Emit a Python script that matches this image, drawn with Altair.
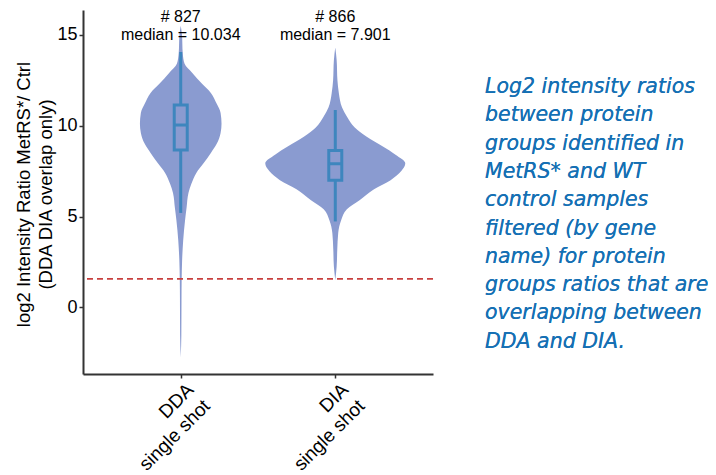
import json
import altair as alt
import pandas as pd

# ---------------- data ----------------
categories = ["DDA", "DIA"]
cat_pos = [1, 2]
cat_label_lines = [["DDA", "single shot"], ["DIA", "single shot"]]
counts = [827, 866]
medians = [10.034, 7.901]
q1 = [8.66, 7.0]
q3 = [11.13, 8.63]
whisk_lo = [5.2, 4.73]
whisk_hi = [14.05, 10.86]
threshold = 1.58

# violin outlines: log2 ratio value and half-width (x units)
dda_y = [15.5, 15.0, 14.0, 13.4, 12.9, 12.3, 11.8, 11.2, 10.7, 10.1, 9.6, 9.0, 8.5,
         7.9, 7.4, 6.8, 6.3, 5.5, 4.8, 3.7, 2.6, 1.5, 0.4, -1.5, -2.75]
dda_w = [0.0, 0.008, 0.013, 0.025, 0.075, 0.138, 0.195, 0.233, 0.258, 0.264, 0.258, 0.233, 0.195,
         0.145, 0.101, 0.069, 0.050, 0.038, 0.028, 0.016, 0.009, 0.006, 0.005, 0.004, 0.0]
dia_y = [14.3, 13.6, 12.5, 11.8, 11.0, 10.5, 9.9, 9.4, 8.85, 8.4, 7.93, 7.5, 7.0,
         6.5, 5.9, 5.4, 4.8, 4.1, 3.2, 2.25, 1.5]
dia_w = [0.0, 0.009, 0.014, 0.023, 0.044, 0.075, 0.126, 0.201, 0.308, 0.390, 0.453, 0.427, 0.358,
         0.251, 0.157, 0.075, 0.038, 0.019, 0.013, 0.009, 0.0]

caption_lines = [
    "Log2 intensity ratios",
    "between protein",
    "groups identified in",
    "MetRS* and WT",
    "control samples",
    "filtered (by gene",
    "name) for protein",
    "groups ratios that are",
    "overlapping between",
    "DDA and DIA.",
]

y_title = ["log2 Intensity Ratio MetRS*/ Ctrl", "(DDA DIA overlap only)"]

# ---------------- tables ----------------
vdf = pd.concat([
    pd.DataFrame({"group": categories[0], "pos": cat_pos[0], "y": dda_y, "w": dda_w}),
    pd.DataFrame({"group": categories[1], "pos": cat_pos[1], "y": dia_y, "w": dia_w}),
])
bdf = pd.DataFrame({
    "group": categories, "pos": cat_pos, "q1": q1, "q3": q3,
    "lo": whisk_lo, "hi": whisk_hi, "median": medians,
    "label": [f"# {c}\nmedian = {m:.3f}" for c, m in zip(counts, medians)],
})

VIOLIN = "#8A9BD0"
BOX = "#3E86BE"
FONT = "Liberation Sans"

x_scale = alt.Scale(domain=[0.4, 2.6], nice=False, zero=False)
y_scale = alt.Scale(domain=[-3.66, 16.36], nice=False, zero=False)

label_expr = " : ".join(
    f"datum.value == {p} ? {json.dumps(l)}" for p, l in zip(cat_pos, cat_label_lines)
) + " : ''"

x_axis = alt.Axis(
    values=cat_pos, labelExpr=label_expr, labelAngle=-45, labelAlign="right",
    labelBaseline="top", labelFontSize=19, labelLineHeight=23, labelOffset=3,
    labelPadding=2, labelOverlap=False, tickSize=4, title=None, grid=False,
    domainColor="#333333", domainWidth=2, tickColor="#333333", tickWidth=1.5,
    labelColor="black", labelFont=FONT,
)
y_axis = alt.Axis(
    values=[0, 5, 10, 15], labelFontSize=18, labelPadding=2, tickSize=4, grid=False,
    domainColor="#333333", domainWidth=2, tickColor="#333333", tickWidth=1.5,
    labelColor="black", labelFont=FONT,
    title=y_title, titleFontSize=18.5, titleFontWeight="normal", titleFont=FONT,
    titleColor="black", titleLineHeight=22, titleX=-50, titleY=184,
    titleBaseline="bottom", titleAlign="center", titleAngle=-90,
)

violin = alt.Chart(vdf).transform_calculate(
    lo="datum.pos - datum.w", hi="datum.pos + datum.w"
).mark_area(orient="horizontal", color=VIOLIN, opacity=1, interpolate="monotone").encode(
    y=alt.Y("y:Q", scale=y_scale, axis=y_axis),
    x=alt.X("lo:Q", scale=x_scale, axis=x_axis),
    x2="hi:Q",
    detail="group:N",
)

base = alt.Chart(bdf)
whisk_low = base.mark_rule(color=BOX, strokeWidth=3).encode(
    x=alt.X("pos:Q", scale=x_scale), y=alt.Y("lo:Q", scale=y_scale), y2="q1:Q")
whisk_high = base.mark_rule(color=BOX, strokeWidth=3).encode(
    x=alt.X("pos:Q", scale=x_scale), y=alt.Y("q3:Q", scale=y_scale), y2="hi:Q")
box = base.mark_bar(size=13, fillOpacity=0, stroke=BOX, strokeWidth=3).encode(
    x=alt.X("pos:Q", scale=x_scale), y=alt.Y("q1:Q", scale=y_scale), y2="q3:Q")
med = base.mark_tick(orient="horizontal", size=13, thickness=3, color=BOX, opacity=1).encode(
    x=alt.X("pos:Q", scale=x_scale), y=alt.Y("median:Q", scale=y_scale))

thr = alt.Chart(bdf).mark_rule(color="#C8403F", strokeDash=[6, 4], strokeWidth=1.5).encode(
    y=alt.datum(threshold, scale=y_scale))

ann = base.mark_text(lineBreak="\n", fontSize=16, lineHeight=18, baseline="middle",
                     font=FONT, color="black").encode(
    x=alt.X("pos:Q", scale=x_scale), y=alt.datum(15.97), text="label:N")

caption = alt.Chart(bdf).mark_text(
    text="\n".join(caption_lines), lineBreak="\n", align="left", baseline="alphabetic",
    fontSize=20.5, fontStyle="italic", font="DejaVu Sans", color="#1570B4", lineHeight=28.3,
).encode(x=alt.value(402), y=alt.value(83))

chart = alt.layer(violin, thr, whisk_low, whisk_high, box, med, ann, caption).properties(
    width=350, height=364,
    background="white",
    autosize=alt.AutoSizeParams(type="none"),
    padding={"left": 75, "top": 2, "right": 275, "bottom": 110},
).configure_view(stroke=None)

chart.save("out.html", embed_options={"renderer": "svg", "actions": False})
